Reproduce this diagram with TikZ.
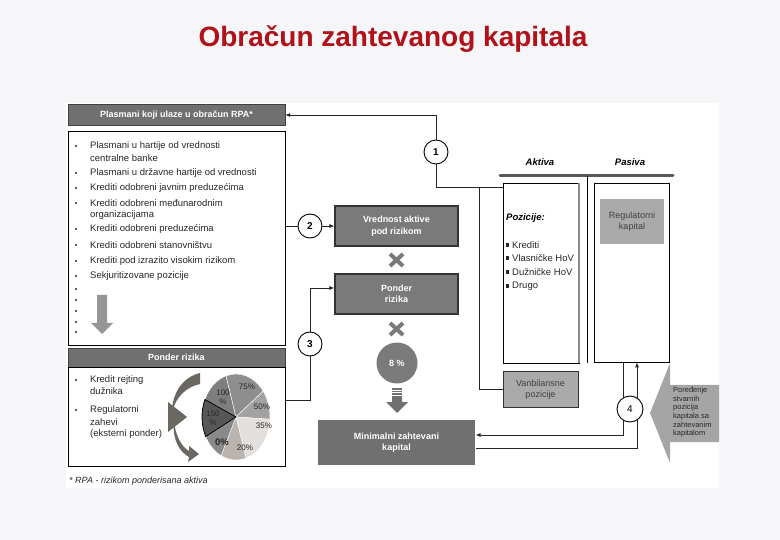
\documentclass[tikz,border=0pt]{standalone}
\usepackage{fontspec}
\setmainfont{Liberation Sans}
\usetikzlibrary{arrows.meta}

\definecolor{titlered}{RGB}{176,18,26}
\definecolor{bgpage}{RGB}{246,246,248}
\definecolor{hdrgray}{RGB}{112,112,112}
\definecolor{boxgray}{RGB}{122,122,122}
\definecolor{mzkgray}{RGB}{112,112,112}
\definecolor{lightbox}{RGB}{170,170,170}
\definecolor{arrgray}{RGB}{150,150,150}
\definecolor{bigarr}{RGB}{165,165,165}
\definecolor{curvecol}{RGB}{107,103,98}
\definecolor{txtdark}{RGB}{40,40,40}
\definecolor{slA}{RGB}{87,87,87}
\definecolor{slB}{RGB}{126,126,126}
\definecolor{slC}{RGB}{142,142,142}
\definecolor{slD}{RGB}{162,162,162}
\definecolor{slE}{RGB}{227,223,220}
\definecolor{slF}{RGB}{187,179,174}
\definecolor{slG}{RGB}{137,137,137}

\tikzset{
  hdr/.style={draw=black!75, fill=hdrgray, text=white, inner sep=0pt,
    font=\fontsize{9}{11}\selectfont\bfseries, minimum width=217pt, minimum height=21pt},
  panel/.style={draw=black, line width=0.8pt, fill=white, inner sep=0pt, minimum width=217pt},
  listtxt/.style={anchor=west, inner sep=0pt, text=txtdark, font=\fontsize{9.5}{11}\selectfont},
  graybox/.style={draw=black!80, line width=1.2pt, fill=boxgray, text=white, align=center,
    inner sep=0pt, font=\fontsize{9}{11.5}\selectfont\bfseries, minimum width=123pt, minimum height=40pt},
  numcirc/.style={circle, draw=black, line width=0.9pt, fill=white, minimum size=24pt,
    inner sep=0pt, font=\fontsize{10}{12}\selectfont\bfseries},
  pctcirc/.style={circle, fill=boxgray, text=white, minimum size=41pt, inner sep=0pt,
    font=\fontsize{9}{11}\selectfont\bfseries},
  tbox/.style={draw=black, line width=0.8pt, fill=white, inner sep=0pt},
  conn/.style={draw=black!85, line width=0.8pt},
  crossmk/.style={line width=4pt, draw=boxgray},
  pielbl/.style={inner sep=0pt, text=txtdark, align=center, font=\fontsize{8}{9}\selectfont},
  sidetxt/.style={text=black!75, align=center, inner sep=0pt, font=\fontsize{9}{11}\selectfont}
}

\begin{document}
\begin{tikzpicture}[x=1pt,y=-1pt]
  % page and white panel
  \fill[bgpage] (0,0) rectangle (780,540);
  \useasboundingbox (0,0) rectangle (780,540);
  \fill[white] (66,103) rectangle (719,488);

  % title
  \node[font=\fontsize{28}{32}\selectfont\bfseries, text=titlered, anchor=base] (title) at (393,46.5) {Obračun zahtevanog kapitala};

  % left column: boxes
  \node[hdr] (hdrA) at (176.5,115) {Plasmani koji ulaze u obračun RPA*};
  \node[panel, minimum height=214pt] (listA) at (176.5,238.5) {};
  \node[hdr, minimum height=19pt] (hdrB) at (176.5,357.5) {Ponder rizika};
  \node[panel, minimum height=99pt] (boxB) at (176.5,416.5) {};

  % list of placements
  \foreach \yy/\txt in {146/Plasmani u hartije od vrednosti, 158/centralne banke,
      173/Plasmani u državne hartije od vrednosti, 188/Krediti odobreni javnim preduzećima,
      203/Krediti odobreni međunarodnim, 215/organizacijama, 229/Krediti odobreni preduzećima,
      245/Krediti odobreni stanovništvu, 261/Krediti pod izrazito visokim rizikom,
      276/Sekjuritizovane pozicije}
    \node[listtxt] (li\yy) at (90,\yy) {\txt};
  \foreach \yy in {146,173,188,203,229,245,261,276,289,300,311,322,332}
    \fill[txtdark] (76,\yy) circle (1.1);
  \fill[arrgray] (97,295) -- (107,295) -- (107,323) -- (113,323) -- (102,334) -- (91,323) -- (97,323) -- cycle;

  % ponder texts
  \foreach \yy/\txt in {380/Kredit rejting, 391/dužnika, 410/Regulatorni, 422/zahevi, 434/(eksterni ponder)}
    \node[listtxt] (pr\yy) at (90,\yy) {\txt};
  \fill[txtdark] (76,380) circle (1.1);
  \fill[txtdark] (76,410) circle (1.1);

  % curved arrows beside the pie
  \fill[curvecol] (200,373) .. controls (183,377) and (172,393) .. (172,412) .. controls (176,397) and (186,387) .. (200,384) -- cycle;
  \fill[curvecol] (168,402) -- (187,417) -- (168,432) -- cycle;
  \fill[curvecol] (174,422) .. controls (172,440) and (180,452) .. (189,457) -- (188,462) -- (199,454) -- (189,446) -- (189,451) .. controls (182,447) and (176,437) .. (174,422) -- cycle;

  % pie of risk weights
  \begin{scope}[shift={(236,417)}, xscale=0.79, yscale=-1]
    \foreach \a/\b/\c in {107/156/slB, 37/107/slC, -3/37/slD, -73/-3/slE, -116/-73/slF, 207/244/slG}
      \fill[\c, draw=white, line width=0.4pt] (0,0) -- (\a:43) arc[start angle=\a, end angle=\b, radius=43] -- cycle;
    \filldraw[fill=slA, draw=black, line width=0.8pt] (0,0) -- (156:43) arc[start angle=156, end angle=207, radius=43] -- cycle;
  \end{scope}
  \node[pielbl] (p100) at (223,397) {100\\\%};
  \node[pielbl] (p75) at (247,387) {75\%};
  \node[pielbl] (p50) at (262,407) {50\%};
  \node[pielbl] (p150) at (213,418) {150\\\%};
  \node[pielbl] (p35) at (264,426) {35\%};
  \node[pielbl, font=\fontsize{9.5}{11}\selectfont\bfseries] (p0) at (222,442) {0\%};
  \node[pielbl] (p20) at (245,448) {20\%};

  % middle column
  \node[graybox] (vap) at (396.5,226) {Vrednost aktive\\pod rizikom};
  \node[graybox] (pond) at (396.5,294) {Ponder\\rizika};
  \node[pctcirc] (pct) at (397,363) {8 \%};
  \node[graybox, draw=none, fill=mzkgray, minimum width=157pt, minimum height=45pt] (mzk) at (396.5,442.5) {Minimalni zahtevani\\kapital};
  \draw[crossmk] (390,254) -- (403,266) (390,266) -- (403,254);
  \draw[crossmk] (390,323) -- (403,335) (390,335) -- (403,323);
  \fill[mzkgray] (392,388.5) rectangle (402,390);
  \fill[mzkgray] (392,391) rectangle (402,392.5);
  \fill[mzkgray] (392,393.5) rectangle (402,395);
  \fill[mzkgray] (392,396) -- (402,396) -- (402,402) -- (408,402) -- (397,413) -- (386,402) -- (392,402) -- cycle;

  \node[numcirc] (c1) at (436,152) {1};
  \node[numcirc] (c2) at (310,226) {2};
  \node[numcirc] (c3) at (310,344) {3};

  % balance sheet
  \node[tbox, minimum width=76pt, minimum height=180pt] (aktiva) at (541,273) {};
  \node[tbox, minimum width=75pt, minimum height=179pt] (pasiva) at (631.5,272.5) {};
  \draw[line width=2pt, black!45] (aktiva.north east) -- (aktiva.south east);
  \node[font=\fontsize{9.5}{11}\selectfont\bfseries\itshape] (lblA) at (540,162) {Aktiva};
  \node[font=\fontsize{9.5}{11}\selectfont\bfseries\itshape] (lblP) at (630,162) {Pasiva};
  \coordinate (tL) at (500,176);
  \coordinate (tR) at (673,176);
  \coordinate (tM) at (587,176);
  \draw[line width=3pt, black!65, line cap=round] (tL) -- (tR);
  \draw[line width=0.9pt] (tM) -- (tM |- aktiva.south);
  \node[anchor=west, inner sep=0pt, font=\fontsize{9.5}{11}\selectfont\bfseries\itshape] (poz) at (506,218) {Pozicije:};
  \foreach \yy/\txt in {245/Krediti, 258/Vlasničke HoV, 272/Dužničke HoV, 286/Drugo} {
    \fill[txtdark] (505.5,\yy-1.7) rectangle (508.9,\yy+1.7);
    \node[listtxt] (ak\yy) at (512,\yy) {\txt};
  }
  \node[sidetxt, fill=lightbox, minimum width=64pt, minimum height=45pt] (regk) at (632,221.5) {Regulatorni\\kapital};
  \node[sidetxt, draw=black!80, line width=1pt, fill=lightbox, minimum width=75pt, minimum height=35pt] (vanb) at (540.5,389.5) {Vanbilansne\\pozicije};

  % comparison arrow
  \fill[bigarr] (650,413) -- (670,363) -- (670,385) -- (719,385) -- (719,442) -- (670,442) -- (670,463) -- cycle;
  \node[anchor=north west, align=left, inner sep=0pt, text=txtdark, font=\fontsize{7.5}{8.6}\selectfont] (por) at (673,387) {Poređenje\\stvarnih\\pozicija\\kapitala sa\\zahtevanim\\kapitalom};

  % connectors
  \coordinate (vj) at (479,188);
  \draw[conn, -{Latex[length=5pt,width=4pt]}] (c1) |- (hdrA.east);
  \draw[conn] (c1) |- ([yshift=-5pt]aktiva.north west);
  \draw[conn] (vj) |- (vanb.west);
  \draw[conn] (listA.east |- c2) -- (c2);
  \draw[conn, -{Latex[length=5pt,width=4pt]}] (c2) -- (vap);
  \draw[conn, -{Latex[length=5pt,width=4pt]}] (c3) |- ([yshift=6pt]pond.west);
  \draw[conn] (c3) |- ([yshift=16.5pt]boxB.east);
  \draw[conn, -{Latex[length=5pt,width=4pt]}] ([xshift=-8.5pt]pasiva.south) |- ([yshift=7.5pt]mzk.east);
  \draw[conn, -{Latex[length=5pt,width=4pt]}] ([yshift=-5.5pt]mzk.east) -| ([xshift=5.5pt]pasiva.south);
  \node[numcirc, minimum size=26pt, font=\fontsize{10}{12}\selectfont] (c4) at (630,409) {4};

  % footnote
  \node[anchor=west, inner sep=0pt, text=txtdark, font=\fontsize{9}{11}\selectfont\itshape] (fnote) at (69,481) {* RPA - rizikom ponderisana aktiva};
\end{tikzpicture}
\end{document}
